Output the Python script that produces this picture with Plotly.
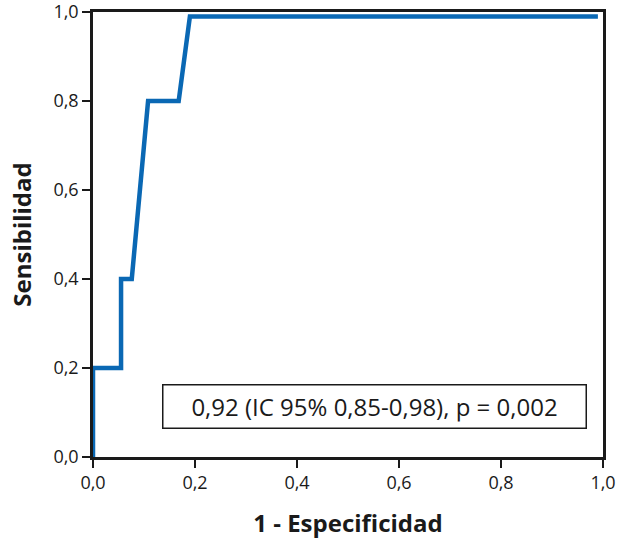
import plotly.graph_objects as go

fpr = [0.0, 0.0, 0.055, 0.055, 0.076, 0.108, 0.168, 0.19, 0.99]
tpr = [0.0, 0.2, 0.2, 0.4, 0.4, 0.8, 0.8, 0.99, 0.99]
tick_vals = [0.0, 0.2, 0.4, 0.6, 0.8, 1.0]
tick_text = ["0,0", "0,2", "0,4", "0,6", "0,8", "1,0"]
label = "0,92 (IC 95% 0,85-0,98), p = 0,002"

fig = go.Figure()
fig.add_trace(go.Scatter(x=fpr, y=tpr, mode="lines",
                         line=dict(color="#0a68b4", width=4.5), showlegend=False))

axis_common = dict(range=[0, 1.0], tickvals=tick_vals, ticktext=tick_text,
                   showgrid=False, zeroline=False, showline=True, linecolor="#1a1a1a",
                   linewidth=2.5, mirror=True, ticks="outside", ticklen=8, tickwidth=2,
                   tickcolor="#1a1a1a", tickfont=dict(size=18, color="#1a1a1a"),
                   automargin=False, ticklabeloverflow="allow")

fig.update_xaxes(**axis_common,
                 title=dict(text="<b>1 - Especificidad</b>", font=dict(size=24, color="#1a1a1a"), standoff=32))
fig.update_yaxes(**axis_common,
                 title=dict(text="<b>Sensibilidad</b>", font=dict(size=24, color="#1a1a1a"), standoff=16))

fig.add_annotation(x=0.552, y=0.113, xref="x", yref="y", text=label, showarrow=False,
                   font=dict(size=24, color="#1a1a1a"), bordercolor="#1a1a1a", borderwidth=1.5,
                   borderpad=6, bgcolor="white", width=410, height=30)

fig.update_layout(width=617, height=539, margin=dict(l=93, r=14, t=12, b=82),
                  paper_bgcolor="white", plot_bgcolor="white",
                  font=dict(family="Open Sans, Lato, sans-serif"))
# remove the page's default 8px body margin so the figure fills the window exactly
fig.write_html("out.html", config={"displayModeBar": False},
               post_script="document.body.style.margin='0px';")
